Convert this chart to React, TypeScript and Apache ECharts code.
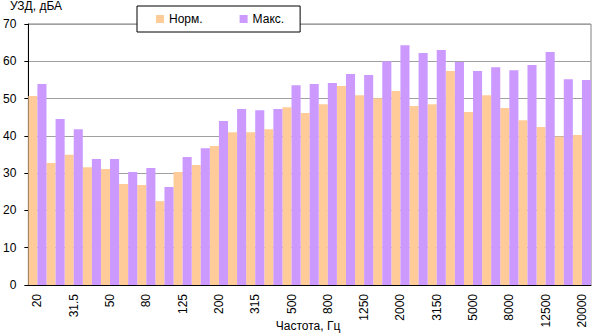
import React, { useEffect, useRef } from "react";
import * as echarts from "echarts";

const categories = ["20", "25", "31.5", "40", "50", "63", "80", "100", "125", "160", "200", "250", "315", "400", "500", "630", "800", "1000", "1250", "1600", "2000", "2500", "3150", "4000", "5000", "6300", "8000", "10000", "12500", "16000", "20000"];
const normValues = [50.7, 32.7, 34.9, 31.6, 31.1, 27.1, 26.8, 22.5, 30.3, 32.2, 37.3, 41.0, 41.0, 41.8, 47.7, 46.1, 48.5, 53.4, 50.9, 50.1, 52.0, 48.0, 48.5, 57.4, 46.4, 50.9, 47.5, 44.2, 42.4, 39.8, 40.2];
const maxValues = [53.9, 44.5, 41.8, 33.8, 33.8, 30.3, 31.4, 26.3, 34.3, 36.7, 44.0, 47.2, 46.9, 47.2, 53.6, 53.9, 54.2, 56.6, 56.3, 60.0, 64.3, 62.2, 63.0, 59.8, 57.4, 58.4, 57.6, 59.0, 62.5, 55.2, 55.0];
const seriesNames = ["Норм.", "Макс."];
const yTitle = "УЗД, дБА";
const xTitle = "Частота, Гц";

const FONT = "'Liberation Sans', Arial, sans-serif";

export default function App() {
  const ref = useRef<HTMLDivElement>(null);
  useEffect(() => {
    if (!ref.current) return;
    const chart = echarts.init(ref.current, null, { renderer: "svg" });
    chart.setOption({
      animation: false,
      textStyle: { fontFamily: FONT },
      grid: {
        left: 25,
        right: 1,
        top: 24,
        bottom: 51,
        show: true,
        borderColor: "#808080",
        borderWidth: 1,
        backgroundColor: "transparent",
      },
      legend: {
        left: 137,
        top: 6,
        padding: [7, 16, 7, 19],
        itemGap: 37,
        itemWidth: 8,
        itemHeight: 8,
        icon: "rect",
        backgroundColor: "#fff",
        borderColor: "#000",
        borderWidth: 1,
        textStyle: { fontSize: 12, color: "#000", fontFamily: FONT },
        data: seriesNames,
      },
      xAxis: {
        type: "category",
        data: categories,
        boundaryGap: true,
        axisLine: { lineStyle: { color: "#000", width: 1 } },
        axisTick: { interval: 0, length: 4, lineStyle: { color: "#000" } },
        axisLabel: { interval: 1, rotate: 90, fontSize: 12, color: "#000", margin: 9, fontFamily: FONT },
        splitLine: { show: false },
      },
      yAxis: {
        type: "value",
        min: 0,
        max: 70,
        interval: 10,
        axisLine: { show: true, lineStyle: { color: "#000", width: 1 } },
        axisTick: { show: true, length: 4, lineStyle: { color: "#000" } },
        axisLabel: { fontSize: 12, color: "#000", margin: 12, fontFamily: FONT },
        splitLine: { lineStyle: { color: "#A0A0A0", width: 1 } },
      },
      series: [
        {
          name: seriesNames[0],
          type: "bar",
          data: normValues,
          barGap: "0%",
          barCategoryGap: "0%",
          itemStyle: { color: "#FFCC99" },
        },
        {
          name: seriesNames[1],
          type: "bar",
          data: maxValues,
          barGap: "0%",
          barCategoryGap: "0%",
          itemStyle: { color: "#CC99FF" },
        },
      ],
      graphic: [
        {
          type: "text",
          left: 10,
          top: 0,
          style: { text: yTitle, fontSize: 12, fill: "#000", fontFamily: FONT },
        },
        {
          type: "text",
          x: 308,
          y: 326,
          style: { text: xTitle, fontSize: 12, fill: "#000", fontFamily: FONT, align: "center", verticalAlign: "middle" },
        },
      ],
    });
    return () => chart.dispose();
  }, []);
  return <div ref={ref} style={{ width: 592, height: 336, position: "absolute", left: 0, top: 0 }} />;
}
